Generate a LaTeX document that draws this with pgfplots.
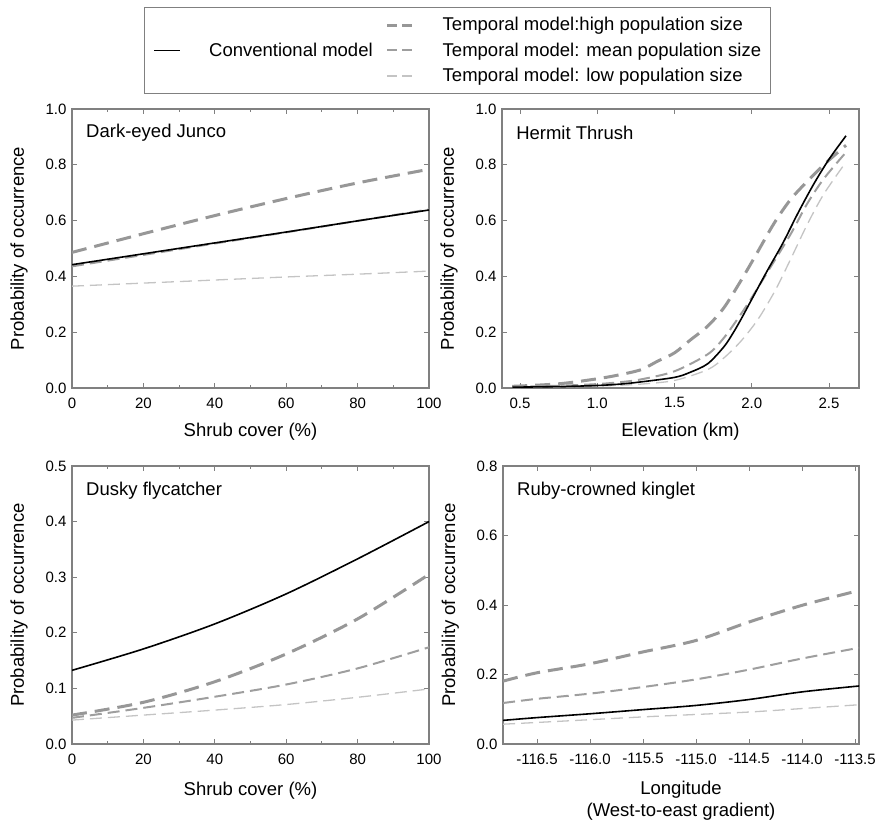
\documentclass[border=0pt]{standalone}
\usepackage{fontspec}
\setmainfont{Liberation Sans}
\usepackage{pgfplots}
\pgfplotsset{compat=1.18}

\definecolor{axgray}{HTML}{808080}
\definecolor{higray}{HTML}{979797}
\definecolor{mngray}{HTML}{9E9E9E}
\definecolor{logray}{HTML}{C4C4C4}

\newcommand{\tickfont}{\fontsize{15}{18}\selectfont}
\newcommand{\labfont}{\fontsize{18.5}{22}\selectfont}

\pgfplotsset{
  conv/.style={black, line width=1.6pt, solid},
  hi/.style={higray, line width=3pt, dash pattern=on 15pt off 8pt},
  mn/.style={mngray, line width=2pt, dash pattern=on 12pt off 6pt},
  lo/.style={logray, line width=1.3pt, dash pattern=on 12pt off 6pt},
  panel/.style={
    scale only axis, width=357pt, height=279pt,
    anchor=south west,
    tick align=inside, major tick length=5pt, minor tick length=3pt,
    axis line style={axgray, line width=1.1pt},
    every tick/.style={axgray, line width=0.9pt},
    tick label style={font=\tickfont, /pgf/number format/assume math mode=true},
    xticklabel style={yshift=-6pt},
    yticklabel style={xshift=-2pt, /pgf/number format/.cd, fixed, fixed zerofill, precision=1},
    scaled ticks=false,
    label style={font=\labfont},
    ylabel={Probability of occurrence},
    ylabel style={at={(axis description cs:-0.148,0.5)}, anchor=center},
    xlabel style={at={(axis description cs:0.5,0)}, anchor=center, yshift=-44pt},
    every axis plot/.append style={smooth, no markers},
  },
}

\begin{document}
\begin{tikzpicture}
\useasboundingbox (0pt,0pt) rectangle (877pt,828pt);

% Dark-eyed Junco
\begin{axis}[panel, at={(72pt,440pt)},
    xmin=0, xmax=100, ymin=0, ymax=1,
    xtick={0,20,...,100}, minor x tick num=1,
    ytick={0,0.2,...,1.0},
    xlabel={Shrub cover (\%)},
    legend columns=2, legend cell align=left,
    legend image code/.code={\draw[#1] (0pt,0pt) -- (26pt,0pt);},
    legend style={at={(0.2017,1.3656)}, anchor=north west, draw=axgray, line width=1.2pt,
      inner xsep=9pt, inner ysep=10pt, font=\labfont, row sep=10.5pt,
      nodes={inner sep=0pt},
      /tikz/every odd column/.append style={column sep=28pt},
      /tikz/every even column/.append style={column sep=13pt}},
  ]
\addplot[lo, forget plot] coordinates {(0,0.365) (20,0.376) (40,0.387) (60,0.398) (80,0.408) (100,0.419)};
\addplot[hi, forget plot] coordinates {(0,0.486) (20,0.553) (40,0.618) (60,0.679) (80,0.735) (100,0.784)};
\addplot[mn, forget plot] coordinates {(0,0.436) (20,0.477) (40,0.518) (60,0.558) (80,0.599) (100,0.640)};
\addplot[conv, forget plot] coordinates {(0,0.442) (20,0.481) (40,0.520) (60,0.559) (80,0.599) (100,0.638)};
\node[anchor=west, font=\labfont] at (rel axis cs:0.03,0.915) {Dark-eyed Junco};
\addlegendimage{empty legend} \addlegendentry{}
\addlegendimage{hi, dash pattern=on 10pt off 5pt} \addlegendentry{Temporal model:high population size}
\addlegendimage{conv} \addlegendentry{Conventional model}
\addlegendimage{mn, dash pattern=on 10pt off 5pt} \addlegendentry{Temporal model: mean population size}
\addlegendimage{empty legend} \addlegendentry{}
\addlegendimage{lo, dash pattern=on 10pt off 5pt} \addlegendentry{Temporal model: low population size}
\end{axis}

% Hermit Thrush
\begin{axis}[panel, at={(502pt,440pt)},
    xmin=0.3835, xmax=2.694, ymin=0, ymax=1,
    xtick={0.5,1.0,...,2.5},
    xticklabel style={/pgf/number format/.cd, fixed, fixed zerofill, precision=1},
    ytick={0,0.2,...,1.0},
    xlabel={Elevation (km)},
  ]
\addplot[lo] coordinates {(0.45,0.002) (0.75,0.004) (1.0,0.007) (1.15,0.010) (1.285,0.014) (1.5,0.027) (1.715,0.066) (1.82,0.108) (1.93,0.168) (2.04,0.246) (2.15,0.348) (2.25,0.46) (2.358,0.585) (2.466,0.695) (2.61,0.81)};
\addplot[hi] coordinates {(0.45,0.006) (0.75,0.015) (1.0,0.033) (1.15,0.048) (1.285,0.066) (1.39,0.096) (1.5,0.126) (1.6,0.171) (1.715,0.222) (1.82,0.288) (1.93,0.385) (2.03,0.48) (2.144,0.59) (2.25,0.675) (2.358,0.74) (2.466,0.80) (2.61,0.87)};
\addplot[mn] coordinates {(0.45,0.004) (0.75,0.008) (1.0,0.014) (1.15,0.021) (1.285,0.031) (1.5,0.06) (1.715,0.121) (1.82,0.18) (1.93,0.265) (2.0,0.324) (2.1,0.414) (2.25,0.55) (2.358,0.66) (2.466,0.75) (2.61,0.845)};
\addplot[conv] coordinates {(0.45,0.003) (0.75,0.005) (1.0,0.009) (1.15,0.014) (1.285,0.022) (1.5,0.038) (1.6,0.056) (1.715,0.087) (1.82,0.148) (1.88,0.198) (1.93,0.246) (2.0,0.318) (2.1,0.42) (2.2,0.518) (2.3,0.628) (2.4,0.73) (2.5,0.82) (2.61,0.904)};
\node[anchor=west, font=\labfont] at (rel axis cs:0.03,0.915) {Hermit Thrush};
\end{axis}

% Dusky flycatcher
\begin{axis}[panel, at={(72pt,84pt)}, height=278pt,
    xmin=0, xmax=100, ymin=0, ymax=0.5,
    xtick={0,20,...,100}, minor x tick num=1,
    ytick={0,0.1,...,0.5},
    xlabel={Shrub cover (\%)},
    xlabel style={yshift=-3pt},
  ]
\addplot[lo] coordinates {(0,0.043) (20,0.052) (40,0.061) (60,0.071) (80,0.084) (100,0.099)};
\addplot[hi] coordinates {(0,0.052) (20,0.075) (40,0.112) (60,0.162) (80,0.225) (100,0.305)};
\addplot[mn] coordinates {(0,0.047) (20,0.065) (40,0.085) (60,0.107) (80,0.136) (100,0.174)};
\addplot[conv] coordinates {(0,0.1325) (20,0.171) (40,0.216) (60,0.270) (80,0.333) (100,0.400)};
\node[anchor=west, font=\labfont] at (rel axis cs:0.03,0.91) {Dusky flycatcher};
\end{axis}

% Ruby-crowned kinglet
\begin{axis}[panel, at={(503pt,84pt)}, width=356pt, height=278pt,
    xmin=-116.821, xmax=-113.462, ymin=0, ymax=0.8,
    xtick={-116.5,-116.0,...,-113.5},
    xticklabel style={/pgf/number format/.cd, fixed, fixed zerofill, precision=1},
    ytick={0,0.2,...,0.8},
    xlabel={Longitude\\(West-to-east gradient)},
    xlabel style={align=center, yshift=-13pt},
  ]
\addplot[lo] coordinates {(-116.82,0.057) (-116.5,0.062) (-116.0,0.070) (-115.5,0.078) (-115.0,0.085) (-114.5,0.092) (-114.0,0.102) (-113.46,0.113)};
\addplot[hi] coordinates {(-116.82,0.181) (-116.5,0.205) (-116.0,0.231) (-115.5,0.265) (-115.0,0.298) (-114.5,0.351) (-114.0,0.399) (-113.46,0.442)};
\addplot[mn] coordinates {(-116.82,0.118) (-116.5,0.130) (-116.0,0.145) (-115.5,0.164) (-115.0,0.186) (-114.5,0.214) (-114.0,0.246) (-113.46,0.277)};
\addplot[conv] coordinates {(-116.82,0.068) (-116.5,0.076) (-116.0,0.087) (-115.5,0.099) (-115.0,0.111) (-114.5,0.128) (-114.0,0.150) (-113.46,0.167)};
\node[anchor=west, font=\labfont] at (rel axis cs:0.03,0.91) {Ruby-crowned kinglet};
\end{axis}
\end{tikzpicture}
\end{document}
